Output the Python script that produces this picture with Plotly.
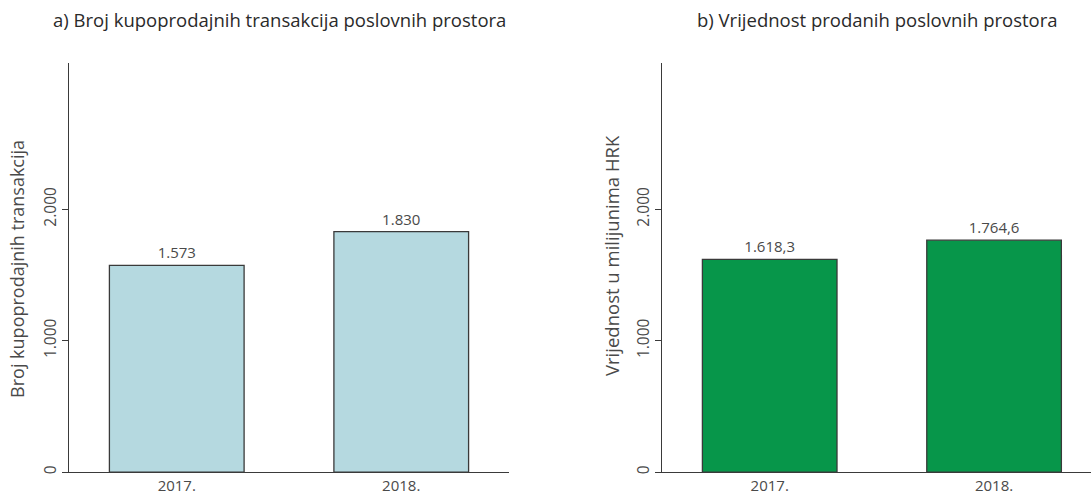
import plotly.graph_objects as go

# Data
years = ["2017.", "2018."]
transactions = [1573, 1830]            # number of sale transactions
value_mn_hrk = [1618.3, 1764.6]        # value of sold premises, HRK million
y_tick_vals = [0, 1000, 2000]
y_tick_text = ["0", "1.000", "2.000"]

FONT = "Open Sans"
TXT = "#4a4a4a"
LINE = "#3a3a3a"


def hr_number(v, decimals=0):
    s = f"{v:,.{decimals}f}"
    return s.replace(",", "X").replace(".", ",").replace("X", ".")


fig = go.Figure()

fig.add_trace(go.Bar(
    x=years, y=transactions, width=0.6,
    marker=dict(color="#b5d9e0", line=dict(color=LINE, width=1.3)),
    text=[hr_number(v) for v in transactions], textposition="outside",
    textfont=dict(family=FONT, size=15, color=TXT),
    cliponaxis=False, xaxis="x", yaxis="y", showlegend=False,
))
fig.add_trace(go.Bar(
    x=years, y=value_mn_hrk, width=0.6,
    marker=dict(color="#07964a", line=dict(color=LINE, width=1.3)),
    text=[hr_number(v, 1) for v in value_mn_hrk], textposition="outside",
    textfont=dict(family=FONT, size=15, color=TXT),
    cliponaxis=False, xaxis="x2", yaxis="y2", showlegend=False,
))

y_bottom = (496 - 474) / 496
y_top = (496 - 63) / 496

xcommon = dict(
    type="category", range=[-0.48, 1.48], showline=True, linecolor=LINE,
    linewidth=1, ticks="", showgrid=False, zeroline=False,
    tickfont=dict(family=FONT, size=15, color=TXT),
)
ycommon = dict(
    range=[0, 3114], showline=True, linecolor=LINE, linewidth=1,
    ticks="outside", ticklen=6, tickcolor=LINE, showgrid=False,
    zeroline=False, tickvals=y_tick_vals, ticktext=y_tick_text,
    tickangle=-90, tickfont=dict(family=FONT, size=15.5, color=TXT),
)

fig.update_layout(
    width=1091, height=496,
    margin=dict(l=0, r=0, t=0, b=0),
    paper_bgcolor="white", plot_bgcolor="white",
    bargap=0.4,
    xaxis=dict(domain=[69 / 1091, 509 / 1091], anchor="y", **xcommon),
    yaxis=dict(domain=[y_bottom, y_top], anchor="x", **ycommon),
    xaxis2=dict(domain=[662 / 1091, 1.0], anchor="y2",
                **{**xcommon, "range": [-0.48, 1.432]}),
    yaxis2=dict(domain=[y_bottom, y_top], anchor="x2", **ycommon),
    annotations=[
        dict(text="a) Broj kupoprodajnih transakcija poslovnih prostora",
             x=279 / 1091, y=1 - 20 / 496, xref="paper", yref="paper",
             xanchor="center", yanchor="middle", showarrow=False,
             font=dict(family=FONT, size=18.5, color="#2a2a2a")),
        dict(text="b) Vrijednost prodanih poslovnih prostora",
             x=877 / 1091, y=1 - 20 / 496, xref="paper", yref="paper",
             xanchor="center", yanchor="middle", showarrow=False,
             font=dict(family=FONT, size=18.5, color="#2a2a2a")),
        dict(text="Broj kupoprodajnih transakcija",
             x=17 / 1091, y=1 - 270 / 496, xref="paper", yref="paper",
             xanchor="center", yanchor="middle", showarrow=False,
             textangle=-90, font=dict(family=FONT, size=18, color=TXT)),
        dict(text="Vrijednost u milijunima HRK",
             x=612 / 1091, y=1 - 256 / 496, xref="paper", yref="paper",
             xanchor="center", yanchor="middle", showarrow=False,
             textangle=-90, font=dict(family=FONT, size=18.5, color=TXT)),
    ],
)

fig.write_html("out.html")
